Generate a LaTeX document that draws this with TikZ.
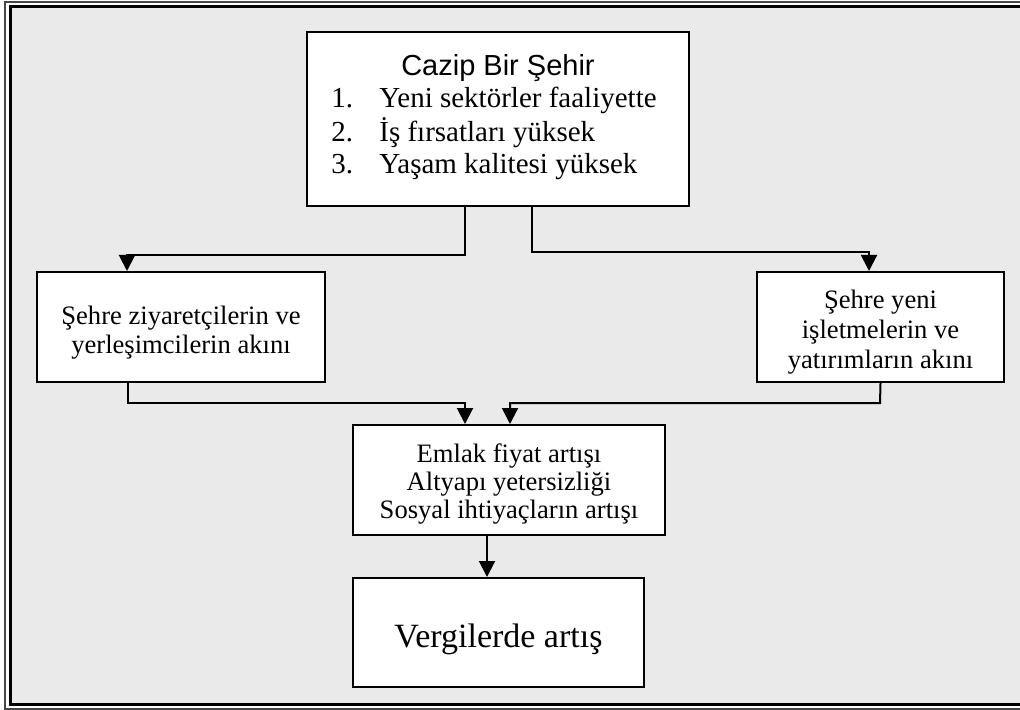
\documentclass[tikz,border=0pt]{standalone}
\usepackage{fontspec}
\setmainfont{Liberation Serif}
\newfontfamily\arialfont{Liberation Sans}
\usetikzlibrary{arrows.meta}
\definecolor{panelgrey}{RGB}{234,234,234}

\tikzset{
  box/.style={draw, fill=white, line width=1pt, inner sep=0pt, align=center,
    font=\fontsize{13.3}{16}\selectfont},
  flow/.style={line width=1pt, -{Triangle[width=8pt,length=8pt]}},
}
\newcommand{\itemno}[1]{\makebox[24pt][l]{#1}}

\begin{document}
\begin{tikzpicture}[x=0.5pt,y=-0.5pt]
    \useasboundingbox (0,0) rectangle (1020,710);
    \clip (0,0) rectangle (1020,710);

    % double frame
    \draw[gray!55!black, line width=1pt] (5,2.5) rectangle (1030,708.5);
    \draw[line width=1.5pt, fill=panelgrey] (10.5,6.5) rectangle (1030,704.5);

    % boxes
    \node[box, minimum width=191pt, minimum height=87pt,
          font=\fontsize{14.5}{16}\selectfont] (city) at (498,119) {%
        \begin{tabular}{@{}l@{\hspace{4pt}}}
            \multicolumn{1}{@{}c@{}}{\arialfont Cazip Bir Şehir}\\
            \itemno{1.}Yeni sektörler faaliyette\\
            \itemno{2.}İş fırsatları yüksek\\
            \itemno{3.}Yaşam kalitesi yüksek\\[1pt]
        \end{tabular}};
    \node[box, minimum width=144pt, minimum height=55pt,
          font=\fontsize{13.3}{14.5}\selectfont] (visitors) at (181,327)
        {\rule{0pt}{15pt}Şehre ziyaretçilerin ve\\yerleşimcilerin akını};
    \node[box, minimum width=123.5pt, minimum height=55pt,
          font=\fontsize{13.3}{15}\selectfont] (firms) at (880.5,327)
        {\rule{0pt}{14pt}Şehre yeni\\işletmelerin ve\\yatırımların akını};
    \node[box, minimum width=156pt, minimum height=55pt,
          font=\fontsize{13.3}{14}\selectfont] (effects) at (509,480)
        {\rule{0pt}{13pt}Emlak fiyat artışı\\Altyapı yetersizliği\\Sosyal ihtiyaçların artışı};
    \node[box, minimum width=145.5pt, minimum height=54.5pt,
          font=\fontsize{17}{20}\selectfont] (taxes) at (498.5,632.5)
        {\rule{0pt}{18.5pt}Vergilerde artış};

    % connectors
    \draw[flow] (city.south -| 465,0) -- (465,255) -| (visitors.north -| 127,0);
    \draw[flow] (city.south -| 532,0) -- (532,252) -| (firms.north -| 869,0);
    \draw[flow] (visitors.south -| 128,0) -- (128,403) -| (effects.north -| 465,0);
    \draw[flow] (firms.south) -- (880,403) -| (effects.north -| 510,0);
    \draw[flow] (effects.south -| 487,0) -- (taxes.north -| 487,0);
\end{tikzpicture}
\end{document}
